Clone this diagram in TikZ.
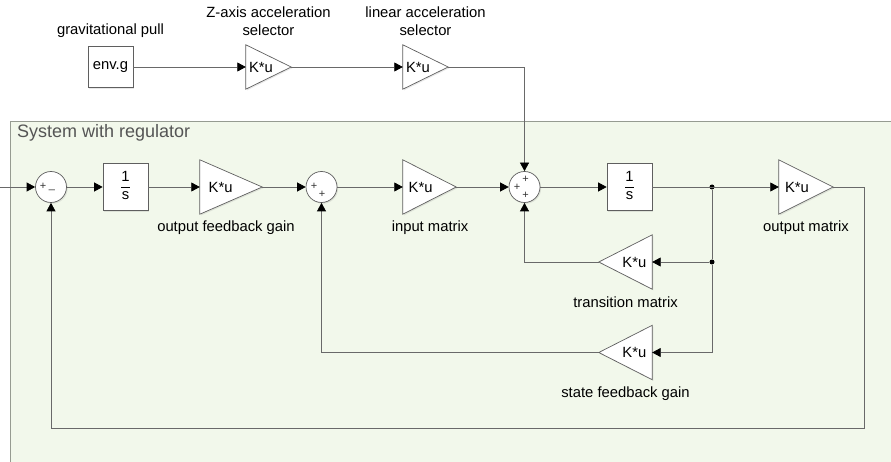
\documentclass[tikz,border=0pt]{standalone}
\usepackage{fontspec}
\setmainfont{Liberation Sans}
\usetikzlibrary{arrows.meta,positioning,calc,backgrounds,shadows}
\definecolor{subfill}{RGB}{242,248,235}
\definecolor{subedge}{RGB}{150,155,145}
\definecolor{wirec}{RGB}{105,105,105}
\definecolor{blockc}{RGB}{95,95,95}
\definecolor{titlec}{RGB}{85,85,85}

\begin{document}
\begin{tikzpicture}[x=1pt, y=-1pt, font=\fontsize{14.8}{18}\selectfont,
  shade/.style={drop shadow={opacity=0.18, shadow xshift=1.2pt, shadow yshift=-1.2pt}},
  blk/.style={draw=blockc, fill=white, line width=0.7pt, inner sep=0pt, minimum width=45pt,
              minimum height=#1, shade},
  sum/.style={circle, draw=blockc, fill=white, line width=0.7pt, inner sep=0pt, minimum size=31pt, shade},
  gainr/.style={inner sep=0pt, minimum width=#1, minimum height=54pt, label={[xshift=-#1/6]center:K*u}},
  gainl/.style={inner sep=0pt, minimum width=#1, minimum height=54pt, label={[xshift=#1/6]center:K*u}},
  tri/.style={draw=blockc, fill=white, line width=0.7pt, line join=miter, shade},
  dot/.style={circle, fill=black, inner sep=0pt, minimum size=5pt},
  sgn/.style={font=\fontsize{11}{11}\selectfont, text=black!80, inner sep=0pt},
  lbl/.style={inner sep=0pt},
  ttl/.style={font=\fontsize{18}{21}\selectfont, text=titlec, inner sep=0pt},
  wire/.style={draw=wirec, line width=0.7pt, -{Triangle[length=8.5pt, width=9pt, color=black]}},
  line/.style={draw=wirec, line width=0.7pt}]
\useasboundingbox (0,0) rectangle (891,462);
% feed-forward of gravity
\node[blk=41pt] (envg) at (110.5,67) {env.g};
\node[gainr=45pt, minimum height=44pt] (zsel) at (268.5,67) {};
\node[gainr=45pt, minimum height=44pt] (lsel) at (425.5,67) {};
\node[lbl, anchor=base] (lgrav) at (110.5,35) {gravitational pull};
\node[lbl, anchor=north, align=center] (lzsel) at (268.5,6.5) {Z-axis acceleration\\selector};
\node[lbl, anchor=north, align=center] (llsel) at (425.5,6.5) {linear acceleration\\selector};
% the subsystem
\node[ttl, anchor=base west] (title) at (17,138) {System with regulator};
\coordinate (in) at (0,187);
\node[sum] (s1) at (51,187) {};
\node[blk=47pt] (int1) at (125.5,187) {\begin{tabular}{@{}c@{}}1\\\hline s\end{tabular}};
\node[gainr=62pt] (ofg) at (231,187) {};
\node[sum] (s2) at (321.5,187) {};
\node[gainr=53pt] (inm) at (429.5,187) {};
\node[sum] (s3) at (524.5,187) {};
\node[blk=47pt] (int2) at (629.5,187) {\begin{tabular}{@{}c@{}}1\\\hline s\end{tabular}};
\node[dot] (j1) at (712,187) {};
\node[gainr=54pt] (outm) at (806,187) {};
\node[gainl=53pt] (trm) at (625.5,262) {};
\node[dot] (j2) at (712,262) {};
\node[gainl=53pt] (sfg) at (625.5,352.5) {};
\coordinate (fb) at (864,428);
\node[lbl, anchor=base] (lofg) at (226,232) {output feedback gain};
\node[lbl, anchor=base] (linm) at (430,232) {input matrix};
\node[lbl, anchor=base] (loutm) at (806,232) {output matrix};
\node[lbl, anchor=base] (ltrm) at (625.5,307) {transition matrix};
\node[lbl, anchor=base] (lsfg) at (625.5,397) {state feedback gain};
% port signs
\node[sgn] (s1a) at (43,186) {+};
\node[sgn] (s1b) at (52,190) {\_};
\node[sgn] (s2a) at (314,186) {+};
\node[sgn] (s2b) at (322,194) {+};
\node[sgn] (s3a) at (517,187) {+};
\node[sgn] (s3b) at (525.5,179.5) {+};
\node[sgn] (s3c) at (525.5,195) {+};
\begin{scope}[on background layer]
  \fill[subfill] (10,121) rectangle (891,462);
  \draw[subedge, line width=0.7pt] (10,462) -- (10,121) -- (891,121);
  \foreach \g in {zsel,lsel,ofg,inm,outm}
    \draw[tri] (\g.north west) -- (\g.east) -- (\g.south west) -- cycle;
  \foreach \g in {trm,sfg}
    \draw[tri] (\g.north east) -- (\g.west) -- (\g.south east) -- cycle;
\end{scope}
% signal flow
\draw[wire] (envg) -- (zsel);
\draw[wire] (zsel) -- (lsel);
\draw[wire] (lsel) -| (s3);
\draw[wire] (in) -- (s1);
\draw[wire] (s1) -- (int1);
\draw[wire] (int1) -- (ofg);
\draw[wire] (ofg) -- (s2);
\draw[wire] (s2) -- (inm);
\draw[wire] (inm) -- (s3);
\draw[wire] (s3) -- (int2);
\draw[wire] (int2) -- (outm);
% feedback paths
\draw[line] (j1) -- (j2);
\draw[wire] (j2) -- (trm);
\draw[wire] (j2) |- (sfg);
\draw[wire] (trm) -| (s3);
\draw[wire] (sfg) -| (s2);
\draw[wire] (outm) -| (fb) -| (s1);
\end{tikzpicture}
\end{document}
